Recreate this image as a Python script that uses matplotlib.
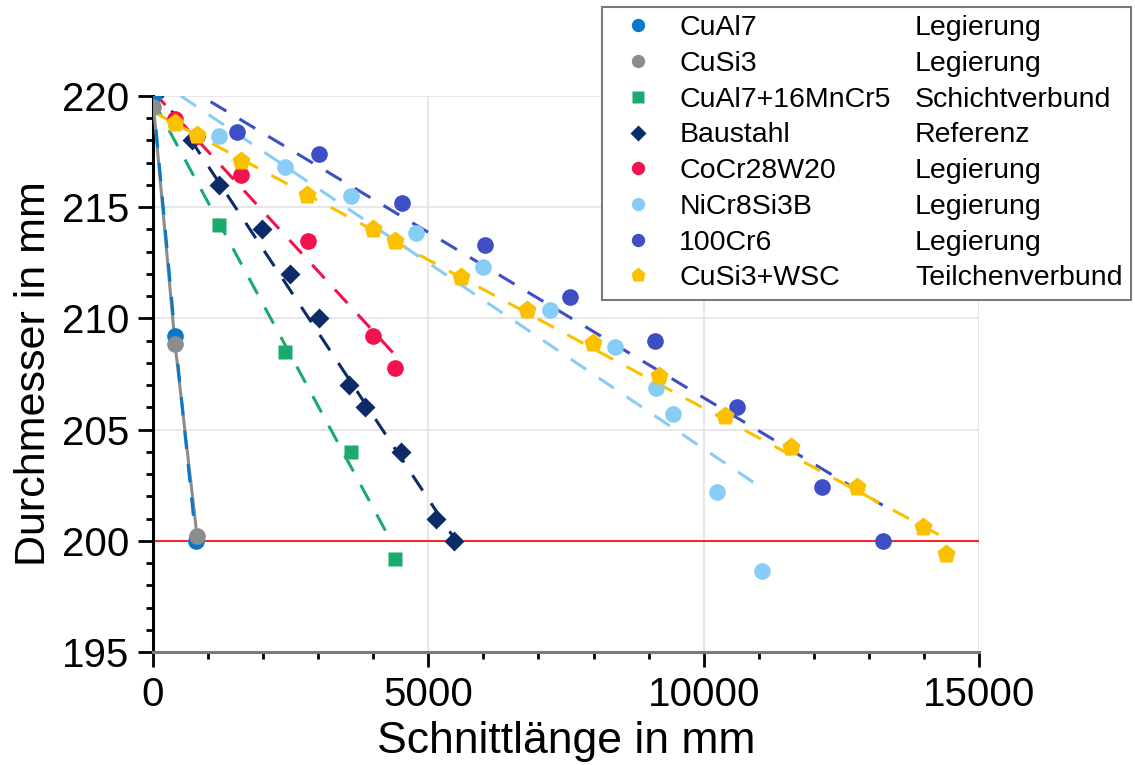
import matplotlib
matplotlib.use('Agg')
import matplotlib.pyplot as plt
from matplotlib.lines import Line2D
from matplotlib.ticker import MultipleLocator

plt.rcParams['font.family'] = ['Liberation Sans', 'DejaVu Sans']

# Messwerte: Schnittlänge (mm) und Durchmesser (mm)
names = ['CuAl7', 'CuSi3', 'CuAl7+16MnCr5', 'Baustahl', 'CoCr28W20',
         'NiCr8Si3B', '100Cr6', 'CuSi3+WSC']
types = ['Legierung', 'Legierung', 'Schichtverbund', 'Referenz', 'Legierung',
         'Legierung', 'Legierung', 'Teilchenverbund']
colors = ['#0a78c8', '#8c8c8c', '#1aaa6e', '#0d2b68', '#f0134d',
          '#87cdf5', '#3e4fc6', '#fbc000']
markers = ['o', 'o', 's', 'D', 'o', 'o', 'o', 'p']
msizes = [12, 12, 10, 10, 12, 12, 12, 14]

cual7_x = [0, 400, 780]
cual7_y = [220.0, 209.2, 200.0]
cusi3_x = [0, 400, 800]
cusi3_y = [219.5, 208.85, 200.2]
schicht_x = [1200, 2400, 3600, 4400]
schicht_y = [214.2, 208.5, 204.0, 199.2]
baustahl_x = [710, 1200, 1980, 2490, 3010, 3560, 3850, 4500, 5140, 5470]
baustahl_y = [218.0, 216.0, 214.0, 212.0, 210.0, 207.0, 206.0, 204.0, 201.0, 200.0]
cocr_x = [400, 800, 1600, 2810, 4000, 4400]
cocr_y = [218.95, 218.2, 216.45, 213.5, 209.2, 207.75]
nicr_x = [1200, 2400, 3600, 4780, 6000, 7200, 8390, 9130, 9450, 10240, 11060]
nicr_y = [218.2, 216.8, 215.5, 213.85, 212.3, 210.4, 208.7, 206.85, 205.7, 202.2, 198.65]
cr6_x = [1525, 3010, 4520, 6030, 7570, 9115, 10600, 12150, 13250]
cr6_y = [218.4, 217.4, 215.2, 213.3, 210.95, 209.0, 206.0, 202.4, 200.0]
wsc_x = [400, 800, 1600, 2800, 4000, 4400, 5590, 6800, 7990, 9190, 10390,
         11590, 12780, 13980, 14400]
wsc_y = [218.8, 218.25, 217.1, 215.55, 214.0, 213.5, 211.85, 210.4, 208.9,
         207.4, 205.6, 204.2, 202.4, 200.6, 199.4]

xs = [cual7_x, cusi3_x, schicht_x, baustahl_x, cocr_x, nicr_x, cr6_x, wsc_x]
ys = [cual7_y, cusi3_y, schicht_y, baustahl_y, cocr_y, nicr_y, cr6_y, wsc_y]

# Ausgleichsgeraden (Start- und Endpunkt)
fit_x = [[0, 400, 780], [0, 400, 800], [0, 4320], [0, 5500], [0, 4360],
         [0, 11130], [0, 13250], [0, 14360]]
fit_y = [[220.0, 209.2, 200.0], [219.8, 208.85, 200.2], [219.8, 200.0],
         [220.6, 200.0], [220.2, 208.45], [220.85, 202.25], [221.3, 201.6],
         [219.3, 200.15]]

fig = plt.figure(figsize=(11.35, 7.65), dpi=100)
ax = fig.add_axes([0.1348, 0.1477, 0.7278, 0.7268])

ax.axhline(200, color='red', lw=1.2, zorder=2)

for i in range(len(names)):
    if i == 1:
        ax.plot(fit_x[i], fit_y[i], color=colors[i], lw=2.2, zorder=3)
    else:
        ax.plot(fit_x[i], fit_y[i], color=colors[i], lw=2.2, ls=(0, (6, 5)),
                zorder=4 if i == 0 else 3)

for i in range(len(names)):
    ax.plot(xs[i], ys[i], ls='none', marker=markers[i], ms=msizes[i],
            color=colors[i], mec='none', zorder=5)

ax.set_xlim(0, 15000)
ax.set_ylim(195, 220)
ax.xaxis.set_major_locator(MultipleLocator(5000))
ax.xaxis.set_minor_locator(MultipleLocator(1000))
ax.yaxis.set_major_locator(MultipleLocator(5))
ax.yaxis.set_minor_locator(MultipleLocator(1))
ax.grid(True, which='major', color='#e3e3e3', lw=1.2, zorder=0)
ax.set_axisbelow(True)

for s in ['top', 'right']:
    ax.spines[s].set_visible(False)
ax.spines['left'].set_linewidth(2.2)
ax.spines['left'].set_color('black')
ax.spines['bottom'].set_linewidth(2.2)
ax.spines['bottom'].set_color('#7a7a7a')

ax.tick_params(axis='both', which='major', direction='out', length=11, width=2,
               labelsize=29, color='black', pad=6)
ax.tick_params(axis='both', which='minor', direction='out', length=5, width=2,
               color='black')

ax.set_xlabel('Schnittlänge in mm', fontsize=32, labelpad=5)
ax.set_ylabel('Durchmesser in mm', fontsize=31, labelpad=6)

# Legende mit zwei Spalten: Werkstoff und Art
handles = [Line2D([], [], ls='none', marker=markers[i], ms=msizes[i] * 0.8,
                  color=colors[i], mec='none') for i in range(len(names))]
blank = [Line2D([], [], ls='none') for _ in types]
leg = fig.legend(handles + blank, names + types, ncol=2,
                 loc='upper right', bbox_to_anchor=(0.9965, 0.991),
                 bbox_transform=fig.transFigure, borderaxespad=0,
                 fontsize=20.5, frameon=True, fancybox=False,
                 edgecolor='#7a7a7a', framealpha=1, handlelength=1.9,
                 handletextpad=0.5, columnspacing=-1.55, labelspacing=0.34,
                 borderpad=0.3)
leg.get_frame().set_linewidth(1.5)

fig.savefig('out.png', dpi=100)
